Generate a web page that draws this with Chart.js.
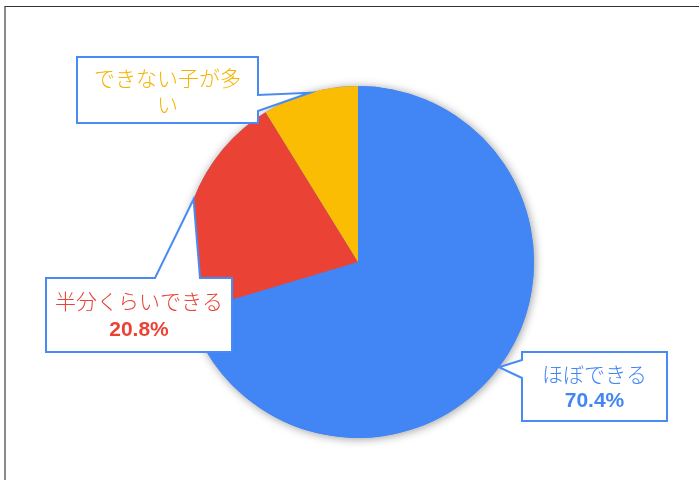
<!DOCTYPE html>
<html>
<head>
<meta charset="utf-8">
<script src="https://cdn.jsdelivr.net/npm/chart.js@4.4.1/dist/chart.umd.min.js"></script>
<style>
    html, body { margin: 0; padding: 0; background: #fff; overflow: hidden; }
    #wrap { position: relative; width: 699px; height: 480px; }
    #frame {
        position: absolute; left: 4px; top: 6px; width: 900px; height: 700px;
        border-top: 1px solid #333; border-left: 2px solid #8a8a8a;
    }
    #myChart { position: absolute; left: 0; top: 0; }
</style>
</head>
<body>
<div id="wrap">
    <div id="frame"></div>
    <canvas id="myChart" width="699" height="480"></canvas>
</div>
<script>
// データ
const labels = ['ほぼできる', '半分くらいできる', 'できない子が多い'];
const values = [70.4, 20.8, 8.8];
const colors = ['#4285F4', '#EA4335', '#FBBC04'];
const textColors = ['#4285F4', '#EA4335', '#F6B400'];

// 吹き出しの配置 (box と、矢印の付け根)
const callouts = [
    { box: { x: 522, y: 352, w: 145, h: 69 }, side: 'left', b0: 8, b1: 26, wrap: 180, showValue: true, lh: 27 },
    { box: { x: 46, y: 278, w: 186, h: 74 }, side: 'top', b0: 109, b1: 154, wrap: 180, showValue: true, lh: 29 },
    { box: { x: 77, y: 57, w: 181, h: 66 }, side: 'right', b0: 38, b1: 54, wrap: 150, showValue: false, lh: 26 }
];

const jpFont = '"Noto Sans CJK JP", "Noto Sans", sans-serif';

// 円の影
const shadowPlugin = {
    id: 'pieShadow',
    beforeDatasetsDraw(chart) {
        const arc = chart.getDatasetMeta(0).data[0];
        if (!arc) return;
        const ctx = chart.ctx;
        ctx.save();
        ctx.shadowColor = 'rgba(0,0,0,0.4)';
        ctx.shadowBlur = 10;
        ctx.shadowOffsetX = 1;
        ctx.shadowOffsetY = 1;
        ctx.fillStyle = '#4285F4';
        ctx.beginPath();
        ctx.arc(arc.x, arc.y, arc.outerRadius, 0, Math.PI * 2);
        ctx.fill();
        ctx.restore();
    }
};

function wrapText(ctx, text, maxWidth) {
    let lines = [], cur = '';
    for (const ch of text) {
        if (ctx.measureText(cur + ch).width > maxWidth && cur) {
            lines.push(cur);
            cur = ch;
        } else {
            cur += ch;
        }
    }
    if (cur) lines.push(cur);
    return lines;
}

// 吹き出しラベル
const calloutPlugin = {
    id: 'callouts',
    afterDatasetsDraw(chart) {
        const ctx = chart.ctx;
        const arcs = chart.getDatasetMeta(0).data;
        arcs.forEach((arc, i) => {
            const c = callouts[i];
            const { x, y, w, h } = c.box;
            const mid = (arc.startAngle + arc.endAngle) / 2;
            const tx = arc.x + Math.cos(mid) * arc.outerRadius;
            const ty = arc.y + Math.sin(mid) * arc.outerRadius;

            ctx.save();
            ctx.beginPath();
            ctx.moveTo(x, y);
            if (c.side === 'top') {
                ctx.lineTo(x + c.b0, y);
                ctx.lineTo(tx, ty);
                ctx.lineTo(x + c.b1, y);
            }
            ctx.lineTo(x + w, y);
            if (c.side === 'right') {
                ctx.lineTo(x + w, y + c.b0);
                ctx.lineTo(tx, ty);
                ctx.lineTo(x + w, y + c.b1);
            }
            ctx.lineTo(x + w, y + h);
            ctx.lineTo(x, y + h);
            if (c.side === 'left') {
                ctx.lineTo(x, y + c.b1);
                ctx.lineTo(tx, ty);
                ctx.lineTo(x, y + c.b0);
            }
            ctx.closePath();
            ctx.fillStyle = '#fff';
            ctx.fill();
            ctx.lineWidth = 2;
            ctx.lineJoin = 'miter';
            ctx.strokeStyle = '#4A8AF4';
            ctx.stroke();

            ctx.font = '300 21px ' + jpFont;
            const lines = wrapText(ctx, labels[i], c.wrap).map(t => ({ t, bold: false }));
            if (c.showValue) lines.push({ t: values[i].toFixed(1) + '%', bold: true });
            const lh = c.lh;
            const cx = x + w / 2;
            let ly = y + h / 2 + 1 - (lines.length - 1) * lh / 2;
            ctx.fillStyle = textColors[i];
            ctx.textAlign = 'center';
            ctx.textBaseline = 'middle';
            lines.forEach(l => {
                ctx.font = l.bold ? 'bold 21px "Liberation Sans", Arial, sans-serif' : '300 21px ' + jpFont;
                ctx.fillText(l.t, cx, ly);
                ly += lh;
            });
            ctx.restore();
        });
    }
};

const ctx = document.getElementById('myChart').getContext('2d');
new Chart(ctx, {
    type: 'pie',
    data: {
        labels: labels,
        datasets: [{
            data: values,
            backgroundColor: colors,
            borderWidth: 0,
            hoverOffset: 0
        }]
    },
    options: {
        responsive: false,
        devicePixelRatio: 1,
        animation: false,
        layout: { padding: { top: 86, bottom: 42, left: 100, right: 83 } },
        plugins: {
            legend: { display: false },
            tooltip: { enabled: false }
        },
        events: []
    },
    plugins: [shadowPlugin, calloutPlugin]
});
</script>
</body>
</html>
